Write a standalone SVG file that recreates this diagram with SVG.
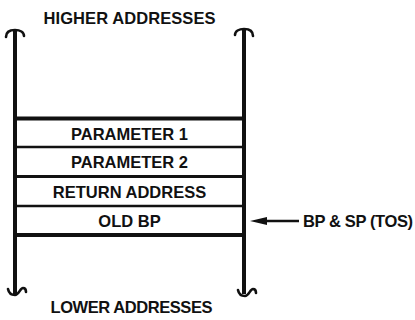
<svg xmlns="http://www.w3.org/2000/svg" width="415" height="320" viewBox="0 0 415 320">
  <defs>
    <style>
      .t { font-family: "Liberation Sans", Arial, sans-serif; font-weight: bold; font-size: 16.5px; fill: #111; }
      .c { text-anchor: middle; }
      .ln { stroke: #111; fill: none; stroke-linecap: butt; }
      .curl { stroke: #111; fill: none; stroke-width: 2.6; stroke-linecap: round; }
    </style>
  </defs>
  <rect width="415" height="320" fill="#fff"/>

  <g id="label-higher">
    <text class="t c" x="129.5" y="24" textLength="172" lengthAdjust="spacing">HIGHER ADDRESSES</text>
  </g>
  <g id="label-lower">
    <text class="t c" x="131.5" y="313" textLength="162" lengthAdjust="spacing">LOWER ADDRESSES</text>
  </g>

  <g id="stack-frame">
    <line class="ln" x1="15" y1="31" x2="15" y2="294" stroke-width="4"/>
    <line class="ln" x1="244" y1="30" x2="244" y2="294" stroke-width="4"/>
    <path class="curl" d="M6,37 C6,32 10,30 15,30 C20,30 24,32 24,36"/>
    <path class="curl" d="M235,35 C235,31 239,29 244,29 C249,29 253,31 253,36"/>
    <path class="curl" d="M8,289 C9,294 12,295 15,295 C19,295 20,288 23,288 C25,288 26,290 26,292"/>
    <path class="curl" d="M238,290 C239,295 242,296 245,296 C249,296 250,289 253,289 C255,289 256,291 256,293"/>
    <line class="ln" x1="15" y1="118.5" x2="244" y2="118.5" stroke-width="4"/>
    <line class="ln" x1="15" y1="147" x2="244" y2="147" stroke-width="2.6"/>
    <line class="ln" x1="15" y1="176.5" x2="244" y2="176.5" stroke-width="2.8"/>
    <line class="ln" x1="15" y1="206" x2="244" y2="206" stroke-width="2.6"/>
    <line class="ln" x1="15" y1="235" x2="244" y2="235" stroke-width="4"/>
  </g>

  <g id="param1"><text class="t c" x="129.5" y="140">PARAMETER 1</text></g>
  <g id="param2"><text class="t c" x="129.5" y="168">PARAMETER 2</text></g>
  <g id="return-address"><text class="t c" x="129.5" y="198">RETURN ADDRESS</text></g>
  <g id="old-bp"><text class="t c" x="129.5" y="227">OLD BP</text></g>

  <g id="pointer-label">
    <text class="t" x="303" y="227" textLength="110" lengthAdjust="spacing">BP &amp; SP (TOS)</text>
  </g>

  <g id="connectors">
    <line class="ln" x1="299" y1="221" x2="264" y2="221" stroke-width="2.6"/>
    <polygon points="250,221 267,217 267,225" fill="#111"/>
  </g>
</svg>
